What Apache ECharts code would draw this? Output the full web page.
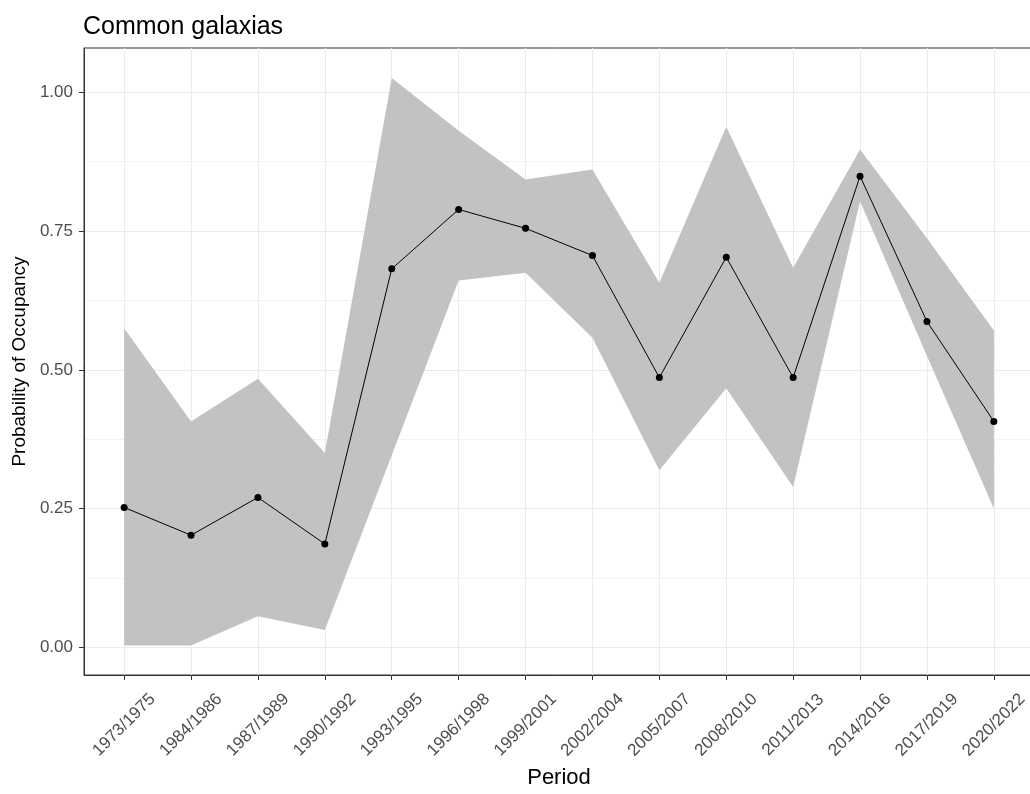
<!DOCTYPE html>
<html>
<head>
<meta charset="utf-8">
<title>Common galaxias</title>
<script src="https://cdn.jsdelivr.net/npm/echarts@6/dist/echarts.min.js"></script>
<style>
  html, body { margin: 0; padding: 0; background: #ffffff; }
  #chart { width: 1030px; height: 794px; }
</style>
</head>
<body>
<div id="chart"></div>
<script>
// Survey periods on the x axis
const periods = [
  '1973/1975', '1984/1986', '1987/1989', '1990/1992', '1993/1995',
  '1996/1998', '1999/2001', '2002/2004', '2005/2007', '2008/2010',
  '2011/2013', '2014/2016', '2017/2019', '2020/2022'
];

// Estimated probability of occupancy for each period
const occupancy = [
  0.252, 0.202, 0.270, 0.186, 0.682, 0.789, 0.755,
  0.706, 0.486, 0.703, 0.486, 0.849, 0.587, 0.407
];

// Lower and upper bounds of the interval around each estimate
const lowerBound = [
  0.003, 0.003, 0.056, 0.031, 0.346, 0.661, 0.675,
  0.558, 0.319, 0.467, 0.289, 0.804, 0.525, 0.250
];
const upperBound = [
  0.575, 0.407, 0.484, 0.350, 1.026, 0.931, 0.843,
  0.861, 0.657, 0.938, 0.684, 0.897, 0.737, 0.571
];

// Axis tick values
const yMajorTicks = [0, 0.25, 0.5, 0.75, 1.0];
const yMinorTicks = [0.125, 0.375, 0.625, 0.875];
const xTicks = periods.map((_, i) => i);

const FONT = '"Liberation Sans", Arial, Helvetica, sans-serif';
const chart = echarts.init(document.getElementById('chart'), null, { renderer: 'canvas' });

const ribbonData = periods.map((p, i) => [i, lowerBound[i], upperBound[i]]);
const lineData = periods.map((p, i) => [i, occupancy[i]]);

const option = {
  backgroundColor: '#ffffff',
  animation: false,
  textStyle: { fontFamily: FONT },
  title: {
    text: 'Common galaxias',
    left: 78,
    top: 10,
    textStyle: { fontFamily: FONT, fontSize: 25, fontWeight: 'normal', color: '#000000' }
  },
  grid: {
    left: 84,
    top: 48,
    width: 950,
    bottom: 119,
    outerBoundsMode: 'none',
    containLabel: false,
    show: true,
    borderColor: '#333333',
    borderWidth: 1,
    backgroundColor: 'transparent'
  },
  xAxis: {
    type: 'value',
    min: -0.6,
    max: 13.6,
    name: 'Period',
    nameLocation: 'middle',
    nameGap: 85,
    nameTextStyle: { fontFamily: FONT, fontSize: 22, color: '#000000' },
    axisLine: { show: true, onZero: false, lineStyle: { color: '#333333', width: 1 } },
    axisTick: { show: true, length: 5, customValues: xTicks, lineStyle: { color: '#333333', width: 1 } },
    axisLabel: {
      customValues: xTicks,
      rotate: 45,
      align: 'center',
      verticalAlign: 'middle',
      margin: 50,
      fontFamily: FONT,
      fontSize: 17,
      color: '#4d4d4d',
      formatter: v => periods[Math.round(v)] || ''
    },
    splitLine: { show: true, lineStyle: { color: '#ebebeb', width: 1 } }
  },
  yAxis: [
    {
      type: 'value',
      min: -0.05,
      max: 1.08,
      name: 'Probability of Occupancy',
      nameLocation: 'middle',
      nameRotate: 90,
      nameGap: 49,
      nameTextStyle: { fontFamily: FONT, fontSize: 19, color: '#000000' },
      axisLine: { show: true, onZero: false, lineStyle: { color: '#333333', width: 1 } },
      axisTick: { show: true, length: 5, customValues: yMajorTicks, lineStyle: { color: '#333333', width: 1 } },
      axisLabel: {
        customValues: yMajorTicks,
        margin: 11,
        fontFamily: FONT,
        fontSize: 17,
        color: '#4d4d4d',
        formatter: v => v.toFixed(2)
      },
      splitLine: { show: true, lineStyle: { color: '#ebebeb', width: 1 } }
    },
    {
      // minor horizontal gridlines only
      type: 'value',
      min: -0.05,
      max: 1.08,
      position: 'left',
      axisLine: { show: false },
      axisTick: { show: false, customValues: yMinorTicks },
      axisLabel: { show: false, customValues: yMinorTicks },
      splitLine: { show: true, lineStyle: { color: '#f3f3f3', width: 1 } }
    }
  ],
  series: [
    {
      name: 'interval',
      type: 'custom',
      coordinateSystem: 'cartesian2d',
      clip: true,
      silent: true,
      z: 1,
      data: ribbonData,
      encode: { x: 0, y: [1, 2] },
      renderItem: function (params, api) {
        if (params.dataIndex !== 0) return null;
        const pts = [];
        for (let i = 0; i < periods.length; i++) pts.push(api.coord([i, upperBound[i]]));
        for (let i = periods.length - 1; i >= 0; i--) pts.push(api.coord([i, lowerBound[i]]));
        return {
          type: 'polygon',
          shape: { points: pts },
          style: { fill: '#c2c2c2', stroke: null }
        };
      }
    },
    {
      name: 'occupancy',
      type: 'line',
      data: lineData,
      z: 3,
      symbol: 'circle',
      symbolSize: 7,
      showSymbol: true,
      lineStyle: { color: '#000000', width: 1 },
      itemStyle: { color: '#000000' }
    }
  ]
};

chart.setOption(option);
</script>
</body>
</html>
